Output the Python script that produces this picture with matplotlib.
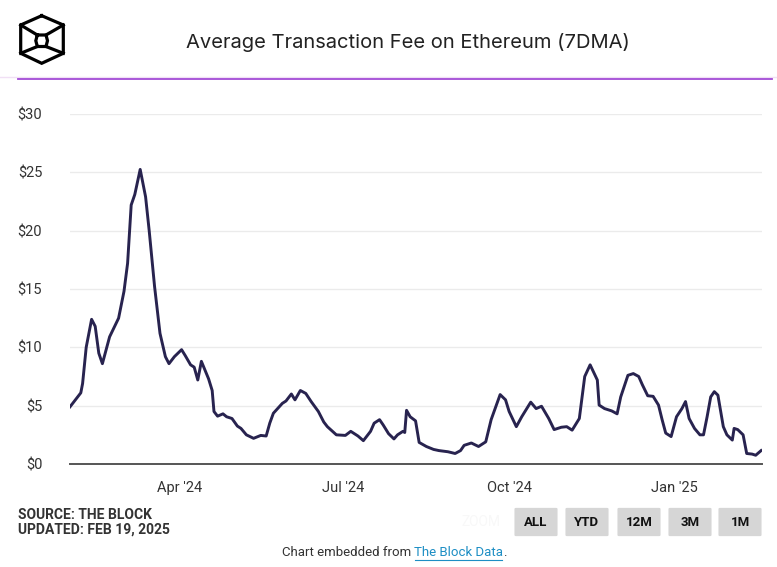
import matplotlib.pyplot as plt
import matplotlib.dates as mdates
from matplotlib.lines import Line2D
from matplotlib.patches import FancyBboxPatch
import pandas as pd

# values (7 day moving average, USD)
dates = [
    '2024-01-31', '2024-02-06', '2024-02-07', '2024-02-09', '2024-02-12', '2024-02-14',
    '2024-02-16', '2024-02-18', '2024-02-22', '2024-02-27', '2024-03-01', '2024-03-03',
    '2024-03-05', '2024-03-07', '2024-03-10', '2024-03-13', '2024-03-15', '2024-03-18',
    '2024-03-21', '2024-03-24', '2024-03-26', '2024-03-29', '2024-04-02', '2024-04-04',
    '2024-04-07', '2024-04-09', '2024-04-11', '2024-04-13', '2024-04-15', '2024-04-17',
    '2024-04-19', '2024-04-20', '2024-04-22', '2024-04-25', '2024-04-27', '2024-04-30',
    '2024-05-03', '2024-05-05', '2024-05-08', '2024-05-12', '2024-05-16', '2024-05-19',
    '2024-05-21', '2024-05-23', '2024-05-28', '2024-05-30', '2024-06-02', '2024-06-04',
    '2024-06-07', '2024-06-10', '2024-06-13', '2024-06-17', '2024-06-20', '2024-06-22',
    '2024-06-27', '2024-07-02', '2024-07-05', '2024-07-09', '2024-07-12', '2024-07-16',
    '2024-07-18', '2024-07-21', '2024-07-23', '2024-07-26', '2024-07-29', '2024-07-31',
    '2024-08-03', '2024-08-04', '2024-08-05', '2024-08-07', '2024-08-10', '2024-08-12',
    '2024-08-16', '2024-08-20', '2024-08-23', '2024-08-28', '2024-09-01', '2024-09-04',
    '2024-09-06', '2024-09-10', '2024-09-14', '2024-09-18', '2024-09-21', '2024-09-26',
    '2024-09-29', '2024-10-01', '2024-10-05', '2024-10-08', '2024-10-13', '2024-10-16',
    '2024-10-19', '2024-10-23', '2024-10-26', '2024-10-30', '2024-11-02', '2024-11-05',
    '2024-11-09', '2024-11-12', '2024-11-15', '2024-11-19', '2024-11-20', '2024-11-23',
    '2024-11-27', '2024-11-30', '2024-12-02', '2024-12-06', '2024-12-09', '2024-12-12',
    '2024-12-14', '2024-12-17', '2024-12-20', '2024-12-23', '2024-12-25', '2024-12-27',
    '2024-12-30', '2025-01-02', '2025-01-05', '2025-01-07', '2025-01-09', '2025-01-12',
    '2025-01-15', '2025-01-17', '2025-01-19', '2025-01-21', '2025-01-23', '2025-01-25',
    '2025-01-28', '2025-01-30', '2025-02-02', '2025-02-03', '2025-02-05', '2025-02-08',
    '2025-02-10', '2025-02-13', '2025-02-15', '2025-02-18',
]
fee = [
    4.9, 6.1, 6.9, 10.0, 12.4, 11.8,
    9.5, 8.6, 10.9, 12.5, 14.8, 17.2,
    22.2, 23.1, 25.25, 22.9, 20.0, 15.2,
    11.2, 9.2, 8.6, 9.2, 9.8, 9.3,
    8.5, 8.3, 7.2, 8.8, 8.05, 7.3,
    6.3, 4.5, 4.1, 4.3, 4.05, 3.9,
    3.25, 3.05, 2.5, 2.2, 2.45, 2.4,
    3.5, 4.35, 5.2, 5.4, 6.0, 5.5,
    6.3, 6.05, 5.35, 4.5, 3.6, 3.2,
    2.5, 2.45, 2.8, 2.4, 2.0, 2.8,
    3.5, 3.8, 3.35, 2.6, 2.15, 2.5,
    2.8, 2.7, 4.6, 4.05, 3.7, 1.85,
    1.5, 1.25, 1.15, 1.05, 0.9, 1.15,
    1.6, 1.8, 1.5, 1.9, 3.8, 5.95,
    5.5, 4.5, 3.2, 4.05, 5.3, 4.75,
    4.95, 3.9, 2.95, 3.15, 3.2, 2.9,
    3.9, 7.5, 8.5, 7.2, 5.05, 4.75,
    4.55, 4.3, 5.75, 7.6, 7.75, 7.5,
    6.8, 5.85, 5.8, 5.05, 3.8, 2.65,
    2.35, 4.05, 4.75, 5.35, 3.9, 3.05,
    2.5, 2.5, 4.05, 5.75, 6.2, 5.9,
    3.2, 2.5, 2.05, 3.05, 2.95, 2.5,
    0.9, 0.85, 0.75, 1.15,
]
y_ticks = [0, 5, 10, 15, 20, 25, 30]
x_ticks = ['2024-04-01', '2024-07-01', '2024-10-01', '2025-01-01']
x_labels = ["Apr '24", "Jul '24", "Oct '24", "Jan '25"]
buttons = ['ALL', 'YTD', '12M', '3M', '1M']

W, H = 777, 567
narrow = ['Liberation Sans Narrow', 'Roboto', 'DejaVu Sans']


def fx(px):
    return px / W


def fy(py):
    return 1 - py / H


fig = plt.figure(figsize=(W / 100, H / 100), dpi=100)
fig.patch.set_facecolor('white')

ax = fig.add_axes([fx(70), fy(464), fx(762) - fx(70), (464 - 114) / H])
ax.plot(pd.to_datetime(dates), fee, color='#28234f', lw=2.1, solid_joinstyle='round')

ax.set_ylim(0, 30)
ax.set_xlim(pd.Timestamp('2024-01-31'), pd.Timestamp('2025-02-18 12:00'))
ax.set_yticks(y_ticks)
ax.set_yticklabels(['$' + str(t) for t in y_ticks])
ax.set_xticks(pd.to_datetime(x_ticks))
ax.set_xticklabels(x_labels)
ax.grid(axis='y', color='#ebebeb', lw=1)
ax.set_axisbelow(True)
for s in ['top', 'right', 'left']:
    ax.spines[s].set_visible(False)
ax.spines['bottom'].set_color('#555555')
ax.spines['bottom'].set_linewidth(1.4)
ax.tick_params(axis='both', length=0, colors='#333333')
ax.tick_params(axis='y', pad=20)
ax.tick_params(axis='x', pad=12)
for lab in ax.get_yticklabels() + ax.get_xticklabels():
    lab.set_fontfamily(narrow)
    lab.set_fontsize(10.5)
for lab in ax.get_yticklabels():
    lab.set_horizontalalignment('right')

# header
fig.text(fx(408), fy(42), 'Average Transaction Fee on Ethereum (7DMA)', ha='center', va='center',
         fontsize=14.5, color='#222222', family=['Inter', 'DejaVu Sans'])
fig.add_artist(Line2D([fx(0), fx(777)], [fy(77), fy(77)], color='#f1e0f5', lw=1))
fig.add_artist(Line2D([fx(18), fx(772)], [fy(78.5), fy(78.5)], color='#a24bd6', lw=1.3))

# logo
outer = [(41.7, 15.7), (63.3, 25), (63.3, 53.3), (41.7, 63.3), (20.7, 53.3), (20.7, 25), (41.7, 15.7)]
inner = [(37.3, 35), (46, 35), (47.5, 40.7), (46, 46.5), (37.3, 46.5), (35.8, 40.7), (37.3, 35)]
spokes = [[(20.7, 25), (37.3, 35)], [(63.3, 25), (46, 35)],
          [(20.7, 53.3), (37.3, 46.5)], [(63.3, 53.3), (46, 46.5)]]
for shape in [outer, inner] + spokes:
    fig.add_artist(Line2D([fx(p[0]) for p in shape], [fy(p[1]) for p in shape],
                          color='black', lw=2.3, solid_joinstyle='miter'))

# footer
fig.text(fx(18), fy(515), 'SOURCE: THE BLOCK', ha='left', va='center', fontsize=10,
         fontweight='bold', color='#333333', family=narrow)
fig.text(fx(18), fy(530), 'UPDATED: FEB 19, 2025', ha='left', va='center', fontsize=10,
         fontweight='bold', color='#333333', family=narrow)
fig.text(fx(481), fy(522), 'ZOOM', ha='center', va='center', fontsize=10,
         color='#f8f8f8', family=narrow)

bx = [514, 565, 617, 668, 718]
for x0, name in zip(bx, buttons):
    fig.add_artist(FancyBboxPatch((fx(x0 + 2), fy(535)), fx(40), (535 - 509) / H,
                                  boxstyle='round,pad=0.002', transform=fig.transFigure,
                                  facecolor='#d6d6d6', edgecolor='none'))
    fig.text(fx(x0 + 22), fy(522), name, ha='center', va='center', fontsize=9.5,
             fontweight='bold', color='#111111', family=narrow)

fig.text(fx(414), fy(553), 'Chart embedded from ', ha='right', va='center', fontsize=9.5,
         color='#333333', family=narrow)
fig.text(fx(414), fy(553), 'The Block Data', ha='left', va='center', fontsize=9.5,
         color='#1d8ec4', family=narrow)
fig.text(fx(503), fy(553), '.', ha='left', va='center', fontsize=9.5, color='#333333', family=narrow)
fig.add_artist(Line2D([fx(415), fx(502)], [fy(560), fy(560)], color='#1d8ec4', lw=0.8))

fig.savefig('out.png', dpi=100)
